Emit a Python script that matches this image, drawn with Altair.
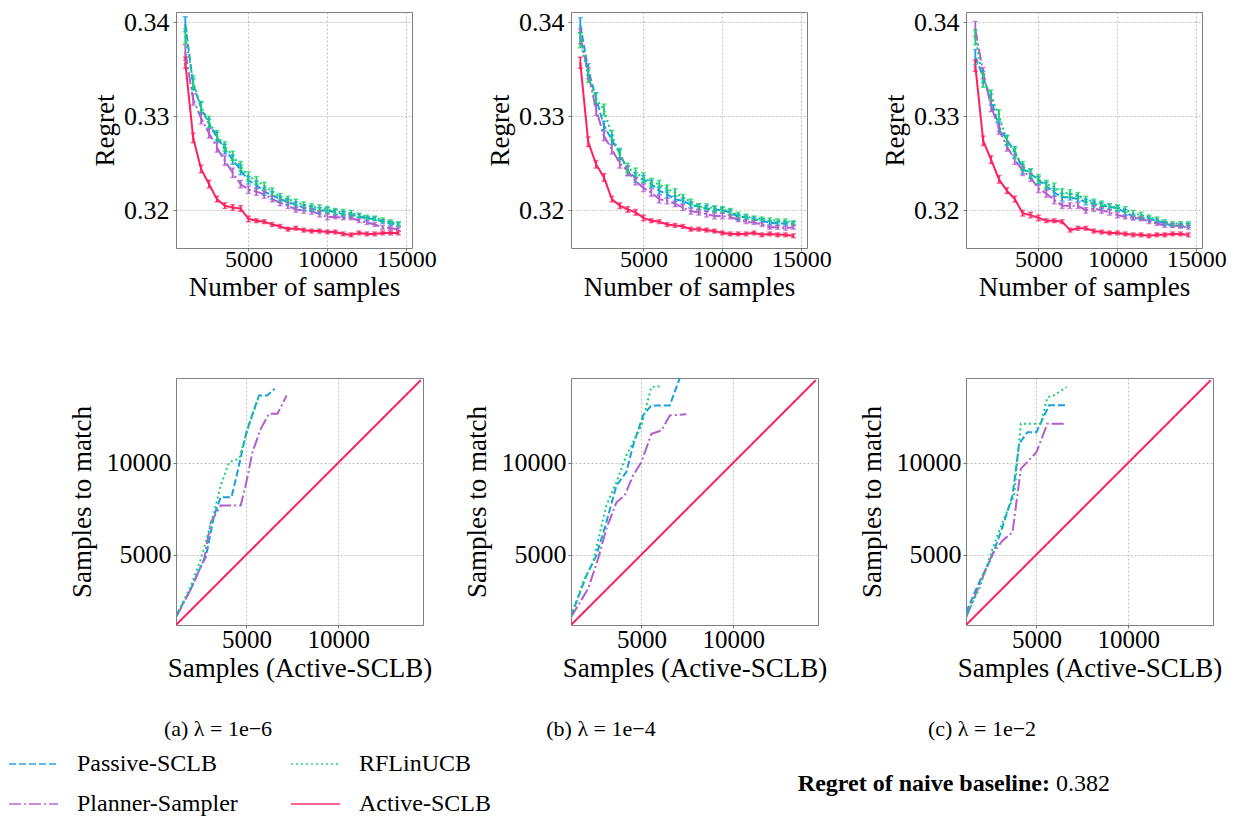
import altair as alt
import pandas as pd

FONT = "Liberation Serif"

methods = ["Passive-SCLB", "Planner-Sampler", "RFLinUCB", "Active-SCLB"]
colors = ["#1a9fe0", "#b35fcd", "#14d36c", "#ff2060"]
dashes = [[7, 3], [12, 3, 2, 3], [2, 3], [1, 0]]

captions = ["(a) λ = 1e−6", "(b) λ = 1e−4", "(c) λ = 1e−2"]
baseline_label = "Regret of naive baseline:"
baseline_value = "0.382"

samples = [1000, 1500, 2000, 2500, 3000, 3500, 4000, 4500, 5000, 5500, 6000, 6500, 7000, 7500,
           8000, 8500, 9000, 9500, 10000, 10500, 11000, 11500, 12000, 12500, 13000, 13500, 14000, 14500]

# ---- regret curves (top row) ----
p1_passive = [0.3398, 0.3334, 0.3309, 0.3292, 0.3278, 0.3265, 0.3254, 0.3243, 0.3232, 0.3227, 0.3220, 0.3216, 0.3212, 0.3209,
              0.3206, 0.3203, 0.3202, 0.3200, 0.3200, 0.3198, 0.3196, 0.3195, 0.3194, 0.3191, 0.3191, 0.3188, 0.3186, 0.3185]
p1_rflin = [0.3385, 0.3336, 0.3310, 0.3294, 0.3280, 0.3268, 0.3258, 0.3247, 0.3236, 0.3232, 0.3226, 0.3220, 0.3214, 0.3212,
            0.3209, 0.3206, 0.3204, 0.3203, 0.3201, 0.3199, 0.3198, 0.3197, 0.3195, 0.3193, 0.3192, 0.3190, 0.3188, 0.3186]
p1_planner = [0.3368, 0.3318, 0.3298, 0.3282, 0.3267, 0.3253, 0.3240, 0.3228, 0.3222, 0.3220, 0.3217, 0.3212, 0.3208, 0.3205,
              0.3201, 0.3200, 0.3199, 0.3196, 0.3193, 0.3193, 0.3192, 0.3192, 0.3189, 0.3187, 0.3185, 0.3182, 0.3181, 0.3180]
p1_active = [0.3357, 0.3277, 0.3244, 0.3228, 0.3212, 0.3205, 0.3203, 0.3202, 0.3191, 0.3189, 0.3188, 0.3185, 0.3183, 0.3180,
             0.3181, 0.3179, 0.3178, 0.3178, 0.3177, 0.3177, 0.3175, 0.3174, 0.3176, 0.3175, 0.3175, 0.3176, 0.3176, 0.3176]

p2_passive = [0.3397, 0.3350, 0.3319, 0.3290, 0.3275, 0.3261, 0.3242, 0.3235, 0.3233, 0.3228, 0.3221, 0.3217, 0.3212, 0.3210,
              0.3206, 0.3204, 0.3202, 0.3201, 0.3200, 0.3198, 0.3193, 0.3193, 0.3191, 0.3189, 0.3187, 0.3186, 0.3186, 0.3186]
p2_rflin = [0.3381, 0.3343, 0.3319, 0.3307, 0.3280, 0.3259, 0.3245, 0.3240, 0.3235, 0.3230, 0.3228, 0.3223, 0.3219, 0.3214,
            0.3209, 0.3204, 0.3204, 0.3202, 0.3201, 0.3199, 0.3195, 0.3193, 0.3192, 0.3191, 0.3190, 0.3189, 0.3189, 0.3187]
p2_planner = [0.3385, 0.3346, 0.3307, 0.3279, 0.3265, 0.3250, 0.3242, 0.3231, 0.3224, 0.3219, 0.3212, 0.3210, 0.3207, 0.3203,
              0.3199, 0.3198, 0.3196, 0.3194, 0.3194, 0.3193, 0.3190, 0.3188, 0.3187, 0.3185, 0.3182, 0.3182, 0.3181, 0.3182]
p2_active = [0.3357, 0.3273, 0.3249, 0.3235, 0.3212, 0.3205, 0.3201, 0.3198, 0.3192, 0.3189, 0.3188, 0.3185, 0.3184, 0.3183,
             0.3180, 0.3180, 0.3179, 0.3178, 0.3176, 0.3175, 0.3175, 0.3175, 0.3176, 0.3174, 0.3175, 0.3174, 0.3174, 0.3173]

p3_passive = [0.3363, 0.3342, 0.3318, 0.3289, 0.3275, 0.3263, 0.3244, 0.3239, 0.3232, 0.3226, 0.3219, 0.3214, 0.3214, 0.3212,
              0.3209, 0.3207, 0.3205, 0.3204, 0.3202, 0.3198, 0.3193, 0.3192, 0.3191, 0.3189, 0.3186, 0.3184, 0.3184, 0.3184]
p3_rflin = [0.3384, 0.3338, 0.3322, 0.3301, 0.3274, 0.3261, 0.3247, 0.3239, 0.3233, 0.3228, 0.3225, 0.3219, 0.3218, 0.3216,
            0.3212, 0.3209, 0.3207, 0.3204, 0.3203, 0.3201, 0.3197, 0.3195, 0.3193, 0.3191, 0.3188, 0.3186, 0.3186, 0.3186]
p3_planner = [0.3393, 0.3346, 0.3311, 0.3286, 0.3268, 0.3254, 0.3242, 0.3235, 0.3223, 0.3218, 0.3211, 0.3205, 0.3205, 0.3205,
              0.3200, 0.3202, 0.3200, 0.3198, 0.3195, 0.3193, 0.3192, 0.3191, 0.3188, 0.3186, 0.3184, 0.3184, 0.3183, 0.3182]
p3_active = [0.3354, 0.3274, 0.3254, 0.3233, 0.3221, 0.3212, 0.3197, 0.3195, 0.3192, 0.3189, 0.3189, 0.3188, 0.3179, 0.3181,
             0.3181, 0.3178, 0.3177, 0.3176, 0.3176, 0.3175, 0.3174, 0.3174, 0.3173, 0.3174, 0.3174, 0.3175, 0.3175, 0.3174]

# error bar half-widths
err_passive = [0.0008, 0.0006, 0.0006, 0.0005, 0.0005, 0.0005, 0.0005, 0.0005, 0.0004, 0.0004, 0.0004, 0.0004, 0.0003, 0.0003,
               0.0003, 0.0003, 0.0003, 0.0003, 0.0003, 0.0003, 0.0003, 0.0002, 0.0002, 0.0002, 0.0002, 0.0002, 0.0002, 0.0002]
err_rflin = [0.0008, 0.0007, 0.0006, 0.0006, 0.0005, 0.0005, 0.0005, 0.0005, 0.0005, 0.0004, 0.0004, 0.0004, 0.0004, 0.0003,
             0.0003, 0.0003, 0.0003, 0.0003, 0.0003, 0.0003, 0.0003, 0.0003, 0.0002, 0.0002, 0.0002, 0.0002, 0.0002, 0.0002]
err_planner = [0.0008, 0.0006, 0.0006, 0.0005, 0.0005, 0.0005, 0.0005, 0.0004, 0.0004, 0.0004, 0.0004, 0.0003, 0.0003, 0.0003,
               0.0003, 0.0003, 0.0003, 0.0003, 0.0003, 0.0002, 0.0002, 0.0002, 0.0002, 0.0002, 0.0002, 0.0002, 0.0002, 0.0002]
err_active = [0.0006, 0.0005, 0.0004, 0.0004, 0.0003, 0.0003, 0.0003, 0.0003, 0.0003, 0.0002, 0.0002, 0.0002, 0.0002, 0.0002,
              0.0002, 0.0002, 0.0002, 0.0002, 0.0002, 0.0002, 0.0002, 0.0002, 0.0002, 0.0002, 0.0002, 0.0002, 0.0002, 0.0002]

# ---- samples to match (bottom row) ----
b1_passive_x = [1170, 1980, 2520, 2790, 3240, 3600, 4190, 4510, 5000, 5240, 5690, 6140, 6540]
b1_passive_y = [1670, 3130, 4360, 4860, 7130, 8130, 8130, 9490, 11670, 12400, 13670, 13670, 14040]
b1_rflin_x = [1170, 1980, 2520, 3240, 3600, 4060, 4600, 5000, 5690]
b1_rflin_y = [1650, 3300, 4760, 7310, 8760, 10040, 10220, 11580, 13670]
b1_planner_x = [1170, 1980, 2700, 3060, 3600, 4690, 5000, 5330, 5780, 6230, 6690, 7190]
b1_planner_y = [1580, 3130, 4760, 6760, 7670, 7670, 8950, 10580, 11850, 12670, 12670, 13670]

b2_passive_x = [1170, 2000, 2545, 3090, 3640, 4180, 4545, 5090, 5545, 6545, 7200]
b2_passive_y = [1640, 3855, 4945, 6764, 8763, 9491, 10945, 12581, 13127, 13127, 14920]
b2_rflin_x = [1170, 1820, 2360, 3090, 3640, 4180, 4545, 5000, 5545, 6090]
b2_rflin_y = [1650, 3490, 4580, 7670, 8950, 10400, 11130, 12040, 14130, 14180]
b2_planner_x = [1170, 2090, 2640, 3090, 3640, 4090, 4545, 5000, 5545, 6090, 6545, 7450]
b2_planner_y = [1600, 3130, 4760, 6400, 7850, 8220, 9310, 10040, 11580, 11760, 12580, 12640]

b3_passive_x = [1170, 1880, 2520, 3060, 3700, 4060, 4510, 5000, 5690, 6650]
b3_passive_y = [1850, 3490, 4760, 6220, 8220, 11040, 11670, 11670, 13130, 13130]
b3_rflin_x = [1170, 1880, 2610, 3150, 3790, 4150, 4510, 5240, 5600, 5960, 6650]
b3_rflin_y = [1670, 3130, 5310, 6760, 8220, 12130, 12130, 12130, 13580, 13670, 14130]
b3_planner_x = [1170, 1880, 2610, 3150, 3700, 4150, 5000, 5600, 6540]
b3_planner_y = [1580, 3310, 5040, 5760, 6220, 9670, 10580, 12130, 12130]

# ---------------------------------------------------------------------------
top_sets = [
    {"Passive-SCLB": p1_passive, "Planner-Sampler": p1_planner, "RFLinUCB": p1_rflin, "Active-SCLB": p1_active},
    {"Passive-SCLB": p2_passive, "Planner-Sampler": p2_planner, "RFLinUCB": p2_rflin, "Active-SCLB": p2_active},
    {"Passive-SCLB": p3_passive, "Planner-Sampler": p3_planner, "RFLinUCB": p3_rflin, "Active-SCLB": p3_active},
]
errs = {"Passive-SCLB": err_passive, "Planner-Sampler": err_planner, "RFLinUCB": err_rflin, "Active-SCLB": err_active}

bottom_sets = [
    {"Passive-SCLB": (b1_passive_x, b1_passive_y), "Planner-Sampler": (b1_planner_x, b1_planner_y), "RFLinUCB": (b1_rflin_x, b1_rflin_y)},
    {"Passive-SCLB": (b2_passive_x, b2_passive_y), "Planner-Sampler": (b2_planner_x, b2_planner_y), "RFLinUCB": (b2_rflin_x, b2_rflin_y)},
    {"Passive-SCLB": (b3_passive_x, b3_passive_y), "Planner-Sampler": (b3_planner_x, b3_planner_y), "RFLinUCB": (b3_rflin_x, b3_rflin_y)},
]

legend = alt.Legend(
    title=None, orient="none", legendX=-168, legendY=737, columns=2, direction="vertical",
    symbolType="stroke", symbolSize=2401, symbolStrokeWidth=2,
    labelFont=FONT, labelFontSize=24, labelColor="black", labelLimit=0,
    labelOffset=18, columnPadding=52, rowPadding=10, clipHeight=30, padding=0,
)
color_enc = alt.Color("method:N", scale=alt.Scale(domain=methods, range=colors), legend=legend)
dash_enc = alt.StrokeDash("method:N", scale=alt.Scale(domain=methods, range=dashes), legend=legend)

axis_common = dict(
    labelFont=FONT, labelColor="black",
    titleFont=FONT, titleFontSize=27, titleFontWeight="normal", titleColor="black",
    grid=True, gridDash=[2, 2], gridColor="#b0b0b0", gridWidth=0.8,
    domain=False, tickSize=3, tickColor="#555555", tickWidth=0.8,
    labelFlush=False, labelOverlap=False, labelBound=False,
)

TW, TH = 236, 236
BW, BH = 247, 247


def top_panel(vals):
    rows = []
    for m in methods:
        for n, y, e in zip(samples, vals[m], errs[m]):
            rows.append({"method": m, "n": n, "regret": y, "lo": y - e, "hi": y + e})
    df = pd.DataFrame(rows)
    xs = alt.Scale(domain=[410, 15360], nice=False, zero=False)
    ys = alt.Scale(domain=[0.3160, 0.3411], nice=False, zero=False)
    xa = alt.Axis(values=[5000, 10000, 15000], format="d", title="Number of samples",
                  labelFontSize=24, labelPadding=-4, titlePadding=3, **axis_common)
    ya = alt.Axis(values=[0.32, 0.33, 0.34], format=".2f", title="Regret",
                  labelFontSize=26, labelPadding=4, titlePadding=4, **axis_common)
    base = alt.Chart(df)
    line = base.mark_line(strokeWidth=2).encode(
        x=alt.X("n:Q", scale=xs, axis=xa), y=alt.Y("regret:Q", scale=ys, axis=ya),
        color=color_enc, strokeDash=dash_enc)
    rule = base.mark_rule(strokeWidth=1.8).encode(
        x="n:Q", y="lo:Q", y2="hi:Q", color=color_enc)
    cap_lo = base.mark_tick(orient="horizontal", size=5, thickness=1.4).encode(
        x="n:Q", y="lo:Q", color=color_enc)
    cap_hi = base.mark_tick(orient="horizontal", size=5, thickness=1.4).encode(
        x="n:Q", y="hi:Q", color=color_enc)
    return alt.layer(line, rule, cap_lo, cap_hi).properties(width=TW, height=TH)


def bottom_panel(series, caption, cap_dx, extra=False):
    rows = []
    for m in methods[:3]:
        xs_, ys_ = series[m]
        for i, (a, b) in enumerate(zip(xs_, ys_)):
            rows.append({"method": m, "x": a, "y": b, "o": i})
    for i, s in enumerate(samples):
        rows.append({"method": methods[3], "x": s, "y": s, "o": i})
    df = pd.DataFrame(rows)
    sc = alt.Scale(domain=[1165, 14620], nice=False, zero=False)
    sc2 = alt.Scale(domain=[1165, 14620], nice=False, zero=False)
    xa = alt.Axis(values=[5000, 10000], format="d", title="Samples (Active-SCLB)",
                  labelFontSize=25, labelPadding=-1, titlePadding=3, **axis_common)
    ya = alt.Axis(values=[5000, 10000], format="d", title="Samples to match",
                  labelFontSize=26, labelPadding=2, titlePadding=10, **axis_common)
    line = alt.Chart(df).mark_line(strokeWidth=2, clip=True).encode(
        x=alt.X("x:Q", scale=sc, axis=xa), y=alt.Y("y:Q", scale=sc2, axis=ya),
        order="o:Q", color=color_enc, strokeDash=dash_enc)
    cap = alt.Chart(pd.DataFrame({"t": [caption]})).mark_text(
        font=FONT, fontSize=22, color="black", align="center", baseline="middle"
    ).encode(text="t:N", x=alt.value(cap_dx), y=alt.value(351))
    layers = [line, cap]
    if extra:
        t1 = alt.Chart(pd.DataFrame({"t": [baseline_label]})).mark_text(
            font=FONT, fontSize=24, fontWeight="bold", color="black", align="right", baseline="middle"
        ).encode(text="t:N", x=alt.value(84), y=alt.value(406))
        t2 = alt.Chart(pd.DataFrame({"t": [baseline_value]})).mark_text(
            font=FONT, fontSize=24, color="black", align="left", baseline="middle"
        ).encode(text="t:N", x=alt.value(90), y=alt.value(406))
        layers += [t1, t2]
    return alt.layer(*layers).properties(width=BW, height=BH)


panels = [top_panel(v) for v in top_sets] + [
    bottom_panel(bottom_sets[0], captions[0], 42),
    bottom_panel(bottom_sets[1], captions[1], 30),
    bottom_panel(bottom_sets[2], captions[2], 16, extra=True),
]

chart = alt.concat(
    *panels, columns=3, spacing=alt.RowColnumber(row=130, column=148), bounds="flush"
).properties(
    padding={"left": 0, "top": 0, "right": 5, "bottom": 5},
    background="white",
).configure_view(stroke="#808080", strokeWidth=1)

chart.save("out.html", embed_options={"renderer": "svg", "actions": False})
